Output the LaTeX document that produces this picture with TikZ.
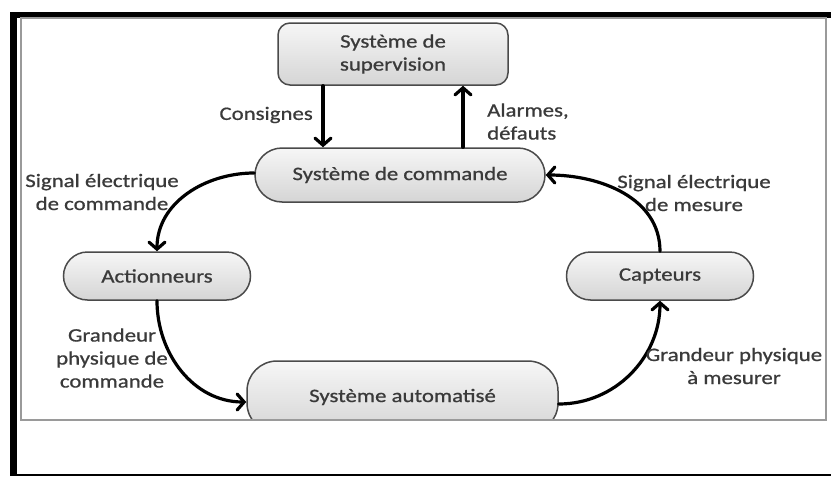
\documentclass[tikz,border=0pt]{standalone}
\usepackage{fontspec}
\setmainfont{Carlito}[FakeStretch=1.2,FakeBold=0.8]
\usetikzlibrary{arrows.meta}
\definecolor{txt}{HTML}{3A3A3A}
\definecolor{edge}{HTML}{4A4A4A}
\definecolor{framegray}{HTML}{9A9A9A}

\begin{document}
\begin{tikzpicture}[x=1pt,y=-1pt,
  every node/.style={font=\fontsize{19}{23}\selectfont, text=txt, inner sep=0pt},
  box/.style={draw=edge, line width=1.5pt, top color=gray!7, bottom color=gray!33, align=center},
  lbl/.style={align=center},
  conn/.style={line width=3.2pt, line cap=round, -{Straight Barb[length=7pt,width=16pt,line cap=round]}}]

\useasboundingbox (0,0) rectangle (831,477);

% outer black frame
\fill[black] (10,12) rectangle (17,476);
\fill[black] (10,12) rectangle (831,18);
\fill[black] (10,473.5) rectangle (831,476);

% blocks
\node[box, rounded corners=12pt, minimum width=230pt, minimum height=62pt] (sup) at (393,54) {Système de\\supervision};
\node[box, rounded corners=27pt, minimum width=290pt, minimum height=54pt] (cmd) at (400,175) {Système de commande};
\node[box, rounded corners=24pt, minimum width=187pt, minimum height=48pt] (act) at (157,276) {Actionneurs};
\node[box, rounded corners=24pt, minimum width=187pt, minimum height=48pt] (cap) at (660,276) {Capteurs};
\begin{scope}
  \clip (0,0) rectangle (831,420);
  \node[box, rounded corners=30pt, minimum width=311pt, minimum height=72pt] (auto) at (402.5,397) {Système automatisé};
\end{scope}

% inner frame
\draw[framegray, line width=1.4pt] (21,18) rectangle (826,420);

% connectors
\draw[conn] ([xshift=-70pt]sup.south) -- ([xshift=-70pt]sup.south |- cmd.north);
\draw[conn] ([xshift=70pt]sup.south |- cmd.north) -- ([xshift=70pt]sup.south);
\draw[conn] ([yshift=2pt]cmd.west) to[out=180,in=90] (act.north);
\draw[conn] (act.south) to[out=-90,in=180] ([yshift=-5pt]auto.west);
\draw[conn] ([yshift=-7pt]auto.east) to[out=0,in=-90] (cap.south);
\draw[conn] (cap.north) to[out=90,in=0] (cmd.east);

% labels
\node[lbl, anchor=east] (l1) at (313,115) {Consignes};
\node[lbl, align=left, anchor=west] (l2) at (487,121.5) {Alarmes,\\défauts};
\node[lbl] (l3) at (102,192) {Signal électrique\\de commande};
\node[lbl] (l4) at (694,193) {Signal électrique\\de mesure};
\node[lbl] (l5) at (112,358) {Grandeur\\physique de\\commande};
\node[lbl] (l6) at (734,366) {Grandeur physique\\à mesurer};
\end{tikzpicture}
\end{document}
